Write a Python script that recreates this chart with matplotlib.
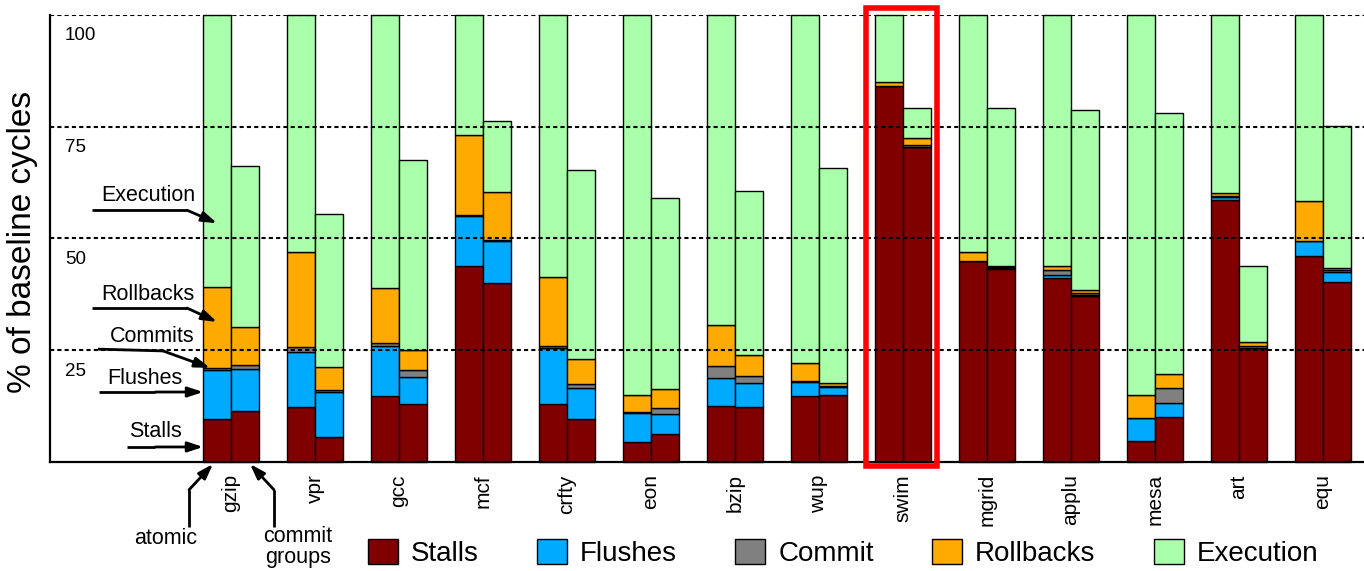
import numpy as np
import matplotlib
matplotlib.use('Agg')
import matplotlib.pyplot as plt
from matplotlib.patches import Patch, Rectangle

plt.rcParams['font.family'] = ['Liberation Sans', 'DejaVu Sans']

benchmarks = ['gzip', 'vpr', 'gcc', 'mcf', 'crfty', 'eon', 'bzip', 'wup',
              'swim', 'mgrid', 'applu', 'mesa', 'art', 'equ']

# atomic (left bar of each pair)
stalls_atomic = [9.6, 12.2, 14.6, 43.9, 12.9, 4.4, 12.5, 14.6, 84.2, 44.9, 41.1, 4.7, 58.6, 46.0]
flushes_atomic = [10.9, 12.4, 11.4, 11.2, 12.5, 6.6, 6.2, 3.3, 0.0, 0.0, 0.7, 5.0, 0.6, 3.3]
commit_atomic = [0.4, 1.1, 0.5, 0.2, 0.4, 0.1, 2.8, 0.1, 0.0, 0.0, 1.05, 0.0, 0.2, 0.0]
rollbacks_atomic = [18.1, 21.2, 12.3, 17.9, 15.6, 3.8, 9.1, 4.0, 0.7, 2.1, 0.95, 5.15, 0.7, 9.1]
execution_atomic = [61.0, 53.1, 61.2, 26.8, 58.6, 85.1, 69.4, 78.0, 15.1, 53.0, 56.2, 85.15, 39.9, 41.6]

# commit groups (right bar of each pair)
stalls_cg = [11.4, 5.6, 12.9, 40.1, 9.5, 6.1, 12.3, 14.9, 70.5, 43.2, 37.1, 9.9, 25.4, 40.2]
flushes_cg = [9.4, 9.9, 6.1, 9.2, 7.1, 4.6, 5.4, 1.8, 0.0, 0.1, 0.2, 3.2, 0.0, 2.3]
commit_cg = [0.9, 0.5, 1.5, 0.3, 0.8, 1.3, 1.5, 0.2, 0.3, 0.2, 0.55, 3.3, 0.5, 0.35]
rollbacks_cg = [8.4, 5.3, 4.5, 10.7, 5.5, 4.2, 4.6, 0.8, 1.7, 0.2, 0.55, 3.3, 1.0, 0.55]
execution_cg = [36.1, 34.2, 42.6, 16.0, 42.5, 42.9, 36.8, 48.1, 6.6, 35.4, 40.3, 58.4, 17.0, 31.7]

labels = ['Stalls', 'Flushes', 'Commit', 'Rollbacks', 'Execution']
colors = ['#800000', '#00AAFF', '#808080', '#FFAA00', '#AAFFAA']
yticks = [25, 50, 75, 100]

atomic = [stalls_atomic, flushes_atomic, commit_atomic, rollbacks_atomic, execution_atomic]
groups = [stalls_cg, flushes_cg, commit_cg, rollbacks_cg, execution_cg]

fig = plt.figure(figsize=(13.64, 5.71), dpi=100)
ax = fig.add_axes([50 / 1364, 1 - 461.7 / 571, 1 - 50 / 1364, (461.7 - 15) / 571])

x = np.arange(len(benchmarks))
w = 1 / 3

for series, offset in [(atomic, -w), (groups, 0)]:
    bottom = np.zeros(len(benchmarks))
    for vals, c in zip(series, colors):
        ax.bar(x + offset, vals, width=w, bottom=bottom, align='edge',
               color=c, edgecolor='black', linewidth=1.0, zorder=2, clip_on=False)
        bottom += np.array(vals)

# dashed grid drawn over the bars
for t in yticks:
    ax.axhline(t, color='black', linestyle=(0, (2, 1.5)), linewidth=1.5, zorder=4)
    ax.text(-1.976, t - 4.7, str(t), ha='left', va='center', fontsize=13.5)

ax.set_xlim(-2.155, 13.488)
ax.set_ylim(0, 100)
ax.set_yticks([])
ax.set_xticks(x)
ax.set_xticklabels(benchmarks, rotation=90, fontsize=15, va='top')
ax.tick_params(axis='x', length=0, pad=9)
ax.set_ylabel('% of baseline cycles', fontsize=24)
ax.yaxis.set_label_coords(-0.0091, 0.492)

for s in ['top', 'right']:
    ax.spines[s].set_visible(False)
for s in ['left', 'bottom']:
    ax.spines[s].set_linewidth(1.6)
    ax.spines[s].set_zorder(5)

# highlight swim
ax.add_patch(Rectangle((7.565, -0.96), 0.834, 102.56, fill=False, edgecolor='#FF0000',
                       linewidth=4, clip_on=False, zorder=6))


def arrow(points, text=None, text_xy=None, ha='right', va='center'):
    xs, ys = zip(*points)
    ax.plot(xs[:-1], ys[:-1], color='black', linewidth=2, clip_on=False,
            solid_capstyle='butt', zorder=6)
    ax.annotate('', xy=points[-1], xytext=points[-2], annotation_clip=False,
                arrowprops=dict(arrowstyle='-|>,head_length=0.9,head_width=0.3',
                                color='black', lw=2, shrinkA=0, shrinkB=0), zorder=6)
    if text:
        ax.text(text_xy[0], text_xy[1], text, ha=ha, va=va, fontsize=15.5,
                clip_on=False, linespacing=1.0)


arrow([(-1.655, 56.3), (-0.524, 56.3), (-0.167, 53.4)], 'Execution', (-0.429, 59.5))
arrow([(-1.655, 34.4), (-0.524, 34.4), (-0.167, 31.3)], 'Rollbacks', (-0.429, 37.5))
arrow([(-1.583, 25.2), (-0.81, 24.8), (-0.25, 21.0)], 'Commits', (-0.429, 28.1))
arrow([(-1.571, 15.6), (-0.9, 15.6), (-0.333, 15.6)], 'Flushes', (-0.583, 18.7))
arrow([(-1.238, 3.3), (-0.9, 3.3), (-0.333, 3.3)], 'Stalls', (-0.583, 6.65))
arrow([(-0.5, -14.6), (-0.5, -6.3), (-0.214, -0.5)], 'atomic', (-0.774, -17.3), ha='center')
arrow([(0.512, -14.6), (0.512, -6.3), (0.226, -0.5)], 'commit\ngroups', (0.798, -19.2), ha='center')

handles = [Patch(facecolor=c, edgecolor='black', linewidth=1.0) for c in colors]
fig.legend(handles, labels, loc='center', bbox_to_anchor=(843 / 1364, 1 - 553 / 571),
           ncol=5, frameon=False, fontsize=20, handlelength=1.08, handleheight=1.04,
           handletextpad=0.47, columnspacing=2.1, borderpad=0)

fig.savefig('out.png', dpi=100)
